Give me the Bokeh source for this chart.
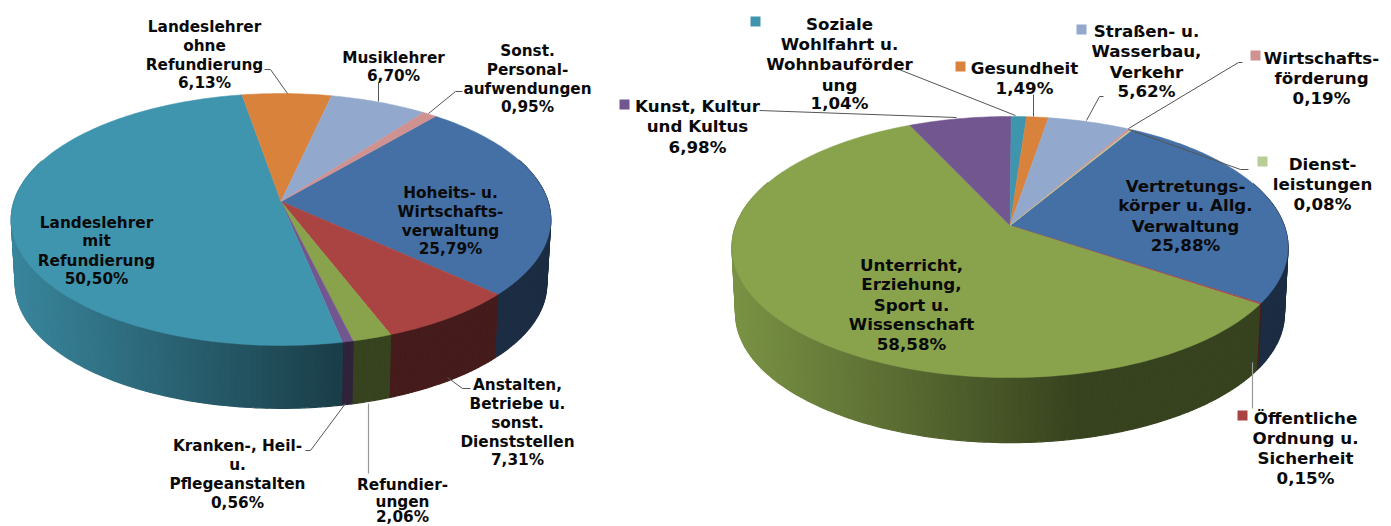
import math
from bokeh.plotting import figure
from bokeh.models import Range1d
from bokeh.core.properties import value
from bokeh.embed import file_html
from bokeh.resources import INLINE

# ---- data -------------------------------------------------------------
left_names = ["Hoheits- u. Wirtschaftsverwaltung", "Anstalten, Betriebe u. sonst. Dienststellen",
              "Refundierungen", "Kranken-, Heil- u. Pflegeanstalten", "Landeslehrer mit Refundierung",
              "Landeslehrer ohne Refundierung", "Musiklehrer", "Sonst. Personalaufwendungen"]
left_values = [25.79, 7.31, 2.06, 0.56, 50.50, 6.13, 6.70, 0.95]
left_colors = ["#4570A5", "#A94442", "#88A34C", "#72568F", "#4095AE", "#D9823C", "#93A8CD", "#D09291"]

right_names = ["Vertretungskörper u. Allg. Verwaltung", "Öffentliche Ordnung u. Sicherheit",
               "Unterricht, Erziehung, Sport u. Wissenschaft", "Kunst, Kultur und Kultus",
               "Soziale Wohlfahrt u. Wohnbauförderung", "Gesundheit", "Straßen- u. Wasserbau, Verkehr",
               "Wirtschaftsförderung", "Dienstleistungen"]
right_values = [25.88, 0.15, 58.58, 6.98, 1.04, 1.49, 5.62, 0.19, 0.08]
right_colors = ["#4570A5", "#A94442", "#88A34C", "#72568F", "#4095AE", "#D9823C", "#93A8CD", "#D09291", "#B9CD96"]

# ---- geometry of the two pies (perspective ellipse) --------------------
LEFT_GEO = dict(cx=280.5, cy=201, A=267, B=123.4, k=0.143, start=40.0, s=0.985, dy=65, xl=10, w=540)
RIGHT_GEO = dict(cx=1009.5, cy=225, A=274.2, B=127, k=0.165, start=30.6, s=0.987, dy=67, xl=732, w=556)


def pt(g, deg, bottom=False):
    a = math.radians(deg)
    w = 1 + g["k"] * math.cos(a)
    s = g["s"] if bottom else 1.0
    off = g["dy"] if bottom else 0.0
    return g["cx"] + s * g["A"] * math.sin(a) / w, g["cy"] + off - s * g["B"] * math.cos(a) / w


def shade(col, f):
    r, gg, b = int(col[1:3], 16), int(col[3:5], 16), int(col[5:7], 16)
    return "#%02x%02x%02x" % (int(r * f), int(gg * f), int(b * f))


p = figure(width=1391, height=526, x_range=Range1d(0, 1391), y_range=Range1d(526, 0),
           output_backend="svg", toolbar_location=None, min_border=0, outline_line_color=None)
p.axis.visible = False
p.grid.visible = False
p.background_fill_color = "white"
p.border_fill_color = "white"


def draw_pie(g, values, colors):
    total = sum(values)
    spans = []
    cur = g["start"]
    for v, c in zip(values, colors):
        nxt = cur + 360.0 * v / total
        spans.append((cur, nxt, c))
        cur = nxt
    # side wall: thin strips, shaded from left to right
    xs, ys, cols = [], [], []
    for a0, a1, c in spans:
        n = max(1, int((a1 - a0) / 1.0))
        for i in range(n):
            t0 = a0 + (a1 - a0) * i / n
            t1 = a0 + (a1 - a0) * (i + 1) / n
            tm = math.cos(math.radians((t0 + t1) / 2))
            if tm > 0.35:
                continue
            x0, y0 = pt(g, t0)
            x1, y1 = pt(g, t1)
            x2, y2 = pt(g, t1, True)
            x3, y3 = pt(g, t0, True)
            t = ((x0 + x1) / 2 - g["xl"]) / g["w"]
            f = 0.90 - 0.49 * min(max(t, 0) / 0.62, 1.0)
            xs.append([x0, x1, x2, x3])
            ys.append([y0, y1, y2, y3])
            cols.append(shade(c, f))
    p.patches(xs, ys, fill_color=cols, line_color=cols, line_width=1.2)
    # top face
    xs, ys, cols = [], [], []
    for a0, a1, c in spans:
        n = max(2, int((a1 - a0) / 1.0))
        px, py = [g["cx"]], [g["cy"]]
        for i in range(n + 1):
            x, y = pt(g, a0 + (a1 - a0) * i / n)
            px.append(x)
            py.append(y)
        xs.append(px)
        ys.append(py)
        cols.append(c)
    p.patches(xs, ys, fill_color=cols, line_color=cols, line_width=0.5)


draw_pie(LEFT_GEO, left_values, left_colors)
draw_pie(RIGHT_GEO, right_values, right_colors)

# ---- leader lines ------------------------------------------------------
dark_leaders = [
    ([264, 270, 287], [69, 69, 93]),
    ([378, 378], [82, 101]),
    ([462, 455, 428], [91, 91, 113]),
    ([470, 462, 447], [388, 388, 377]),
    ([305, 310, 345], [450, 450, 403]),
    ([896, 1015], [68, 115]),
    ([1033, 1033], [94, 116]),
    ([1103, 1099, 1086], [96, 96, 120]),
    ([1242, 1238, 1128], [62, 62, 128]),
    ([1248, 1240, 1128], [169, 169, 129]),
    ([759, 956], [110, 117]),
]
gray_leaders = [([368, 368], [403, 473]), ([1252, 1252], [362, 408])]
p.multi_line([d[0] for d in dark_leaders], [d[1] for d in dark_leaders], line_color="#555555", line_width=1)
p.multi_line([d[0] for d in gray_leaders], [d[1] for d in gray_leaders], line_color="#999999", line_width=1.2)

# ---- legend keys -------------------------------------------------------
key_x = [755, 960, 1081, 1255, 1262, 1242, 624]
key_y = [21, 66, 29, 55, 161, 415, 104]
key_colors = ["#4095AE", "#D9823C", "#93A8CD", "#D09291", "#B9CD96", "#A94442", "#72568F"]
p.scatter(key_x, key_y, marker="square", size=10, fill_color=key_colors, line_color=None)

# ---- labels ------------------------------------------------------------
left_labels = [
    (204, ["Landeslehrer", "ohne", "Refundierung", "6,13%"], [26, 45, 64, 82]),
    (393, ["Musiklehrer", "6,70%"], [57, 75]),
    (527, ["Sonst.", "Personal-", "aufwendungen", "0,95%"], [50, 69, 88, 106]),
    (450, ["Hoheits- u.", "Wirtschafts-", "verwaltung", "25,79%"], [192, 211, 230, 248]),
    (96, ["Landeslehrer", "mit", "Refundierung", "50,50%"], [222, 240, 260, 278]),
    (517, ["Anstalten,", "Betriebe u.", "sonst.", "Dienststellen", "7,31%"], [384, 403, 422, 441, 459]),
    (402, ["Refundier-", "ungen", "2,06%"], [484, 501, 516]),
    (237, ["Kranken-, Heil-", "u.", "Pflegeanstalten", "0,56%"], [445, 464, 483, 502]),
]
right_labels = [
    (839, ["Soziale", "Wohlfahrt u.", "Wohnbauförder", "ung", "1,04%"], [23, 43, 63, 84, 102]),
    (1024, ["Gesundheit", "1,49%"], [67, 87]),
    (1146, ["Straßen- u.", "Wasserbau,", "Verkehr", "5,62%"], [30, 50, 71, 90]),
    (1321, ["Wirtschafts-", "förderung", "0,19%"], [57, 77, 97]),
    (1322, ["Dienst-", "leistungen", "0,08%"], [163, 183, 203]),
    (1185, ["Vertretungs-", "körper u. Allg.", "Verwaltung", "25,88%"], [185, 204, 225, 244]),
    (911, ["Unterricht,", "Erziehung,", "Sport u.", "Wissenschaft", "58,58%"], [264, 283, 304, 323, 343]),
    (1305, ["Öffentliche", "Ordnung u.", "Sicherheit", "0,15%"], [417, 437, 457, 477]),
    (697, ["Kunst, Kultur", "und Kultus", "6,98%"], [105, 125, 146]),
]


def draw_labels(labels, size):
    tx, ty, tt = [], [], []
    for x, lines, ys in labels:
        for line, y in zip(lines, ys):
            tx.append(x)
            ty.append(y)
            tt.append(line)
    p.text(tx, ty, text=tt, text_font=value("DejaVu Sans"), text_font_style="bold",
           text_font_size=size, text_align="center", text_baseline="middle", text_color="#0a0a0a")


draw_labels(left_labels, "15.3px")
draw_labels(right_labels, "16.7px")

open("out.html", "w").write(file_html(p, INLINE))
